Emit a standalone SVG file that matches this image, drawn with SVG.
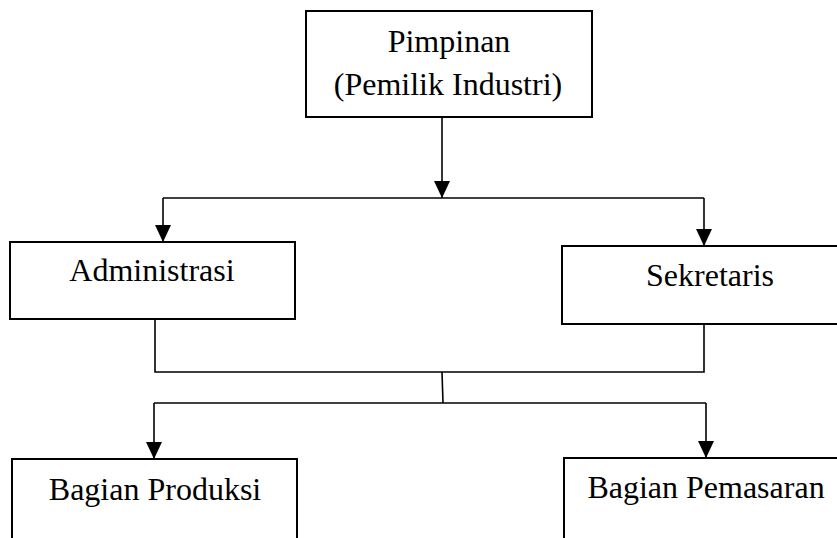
<svg xmlns="http://www.w3.org/2000/svg" width="837" height="538" viewBox="0 0 837 538">
<style>
.box{fill:#fff;stroke:#000;stroke-width:2}
.t{font-family:'Liberation Serif','Times New Roman',serif;font-size:32px;fill:#000;text-anchor:middle}
.c{fill:none;stroke:#000;stroke-width:1.6}
</style>
<defs>
<marker id="ah" markerUnits="userSpaceOnUse" markerWidth="17" markerHeight="16" refX="17" refY="8" orient="auto" viewBox="0 0 17 16">
<path d="M0,0 L17,8 L0,16 Z" fill="#000"/>
</marker>
</defs>
<rect width="837" height="538" fill="#fff"/>
<g id="connectors">
<path class="c" d="M442,117 V198" marker-end="url(#ah)"/>
<path class="c" d="M163,198 H704"/>
<path class="c" d="M163,198 V242" marker-end="url(#ah)"/>
<path class="c" d="M704,198 V246" marker-end="url(#ah)"/>
<path class="c" d="M155,319 V372 H704 V324"/>
<path class="c" d="M442,372 L443,403"/>
<path class="c" d="M154,403 H706"/>
<path class="c" d="M154,403 V459" marker-end="url(#ah)"/>
<path class="c" d="M706,403 V458" marker-end="url(#ah)"/>
</g>
<g id="pimpinan">
<rect class="box" x="306" y="11" width="286" height="106"/>
<text class="t" x="449" y="52">Pimpinan</text>
<text class="t" x="448" y="95">(Pemilik Industri)</text>
</g>
<g id="administrasi">
<rect class="box" x="10" y="242" width="285" height="77"/>
<text class="t" x="152" y="281">Administrasi</text>
</g>
<g id="sekretaris">
<rect class="box" x="562" y="246" width="290" height="78"/>
<text class="t" x="710" y="286">Sekretaris</text>
</g>
<g id="produksi">
<rect class="box" x="12" y="459" width="285" height="100"/>
<text class="t" x="155" y="500">Bagian Produksi</text>
</g>
<g id="pemasaran">
<rect class="box" x="564" y="458" width="290" height="100"/>
<text class="t" x="706" y="498">Bagian Pemasaran</text>
</g>
</svg>
